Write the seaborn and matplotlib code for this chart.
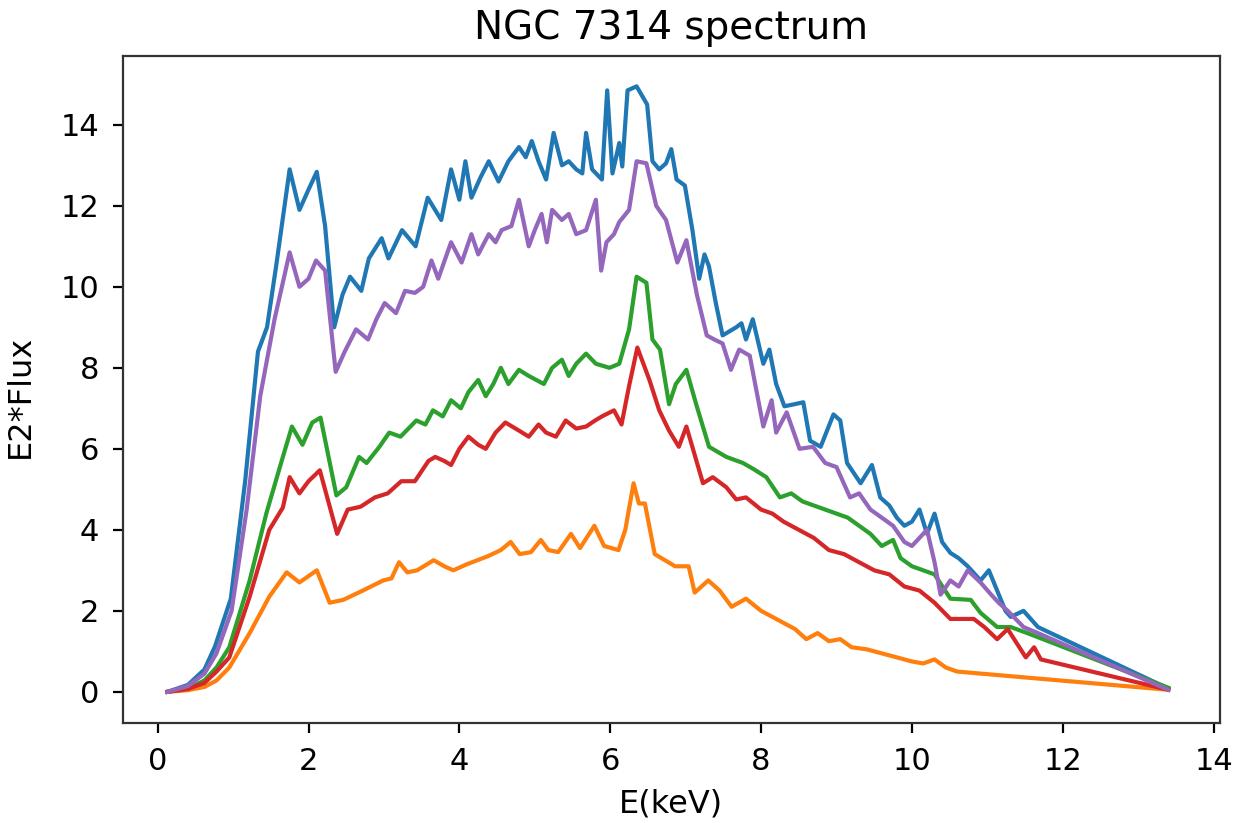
import pandas as pd
import seaborn as sns
import matplotlib.pyplot as plt

e_1 = [0.13, 0.40, 0.62, 0.76, 0.97, 1.16, 1.33, 1.45, 1.57, 1.75,
       1.88, 2.00, 2.11, 2.22, 2.34, 2.45, 2.55, 2.70, 2.80, 2.97,
       3.06, 3.24, 3.42, 3.58, 3.76, 3.89, 4.00, 4.08, 4.16, 4.28,
       4.39, 4.52, 4.65, 4.79, 4.88, 4.96, 5.05, 5.15, 5.25, 5.36,
       5.45, 5.55, 5.63, 5.68, 5.76, 5.89, 5.96, 6.03, 6.12, 6.16,
       6.23, 6.35, 6.49, 6.56, 6.65, 6.74, 6.81, 6.88, 6.99, 7.09,
       7.18, 7.25, 7.31, 7.40, 7.49, 7.58, 7.67, 7.74, 7.80, 7.89,
       8.03, 8.11, 8.20, 8.31, 8.44, 8.56, 8.65, 8.79, 8.96, 9.05,
       9.14, 9.23, 9.32, 9.47, 9.58, 9.70, 9.80, 9.90, 10.00, 10.10,
       10.20, 10.30, 10.40, 10.51, 10.62, 10.74, 10.91, 11.02, 11.13, 11.24,
       11.31, 11.48, 11.67, 13.40]
f_1 = [0.00, 0.17, 0.55, 1.12, 2.30, 5.20, 8.40, 9.00, 10.50, 12.90,
       11.90, 12.40, 12.84, 11.50, 9.00, 9.80, 10.25, 9.90, 10.70, 11.20,
       10.70, 11.40, 11.00, 12.20, 11.65, 12.90, 12.15, 13.10, 12.20, 12.70,
       13.10, 12.60, 13.10, 13.45, 13.20, 13.60, 13.10, 12.65, 13.80, 13.00,
       13.10, 12.90, 12.80, 13.80, 12.90, 12.65, 14.85, 12.80, 13.55, 12.97,
       14.85, 14.95, 14.50, 13.10, 12.90, 13.05, 13.40, 12.65, 12.50, 11.40,
       10.20, 10.80, 10.50, 9.60, 8.80, 8.90, 9.00, 9.10, 8.70, 9.20,
       8.10, 8.45, 7.60, 7.05, 7.10, 7.15, 6.20, 6.05, 6.85, 6.70,
       5.65, 5.40, 5.15, 5.60, 4.80, 4.60, 4.30, 4.10, 4.20, 4.50,
       3.90, 4.40, 3.70, 3.43, 3.30, 3.10, 2.75, 3.00, 2.50, 2.00,
       1.85, 2.00, 1.60, 0.08]

e_2 = [0.13, 0.40, 0.62, 0.78, 0.95, 1.22, 1.48, 1.71, 1.88, 2.11,
       2.28, 2.46, 2.72, 2.99, 3.10, 3.20, 3.31, 3.44, 3.66, 3.80,
       3.92, 4.10, 4.38, 4.55, 4.68, 4.80, 4.95, 5.08, 5.18, 5.31,
       5.48, 5.60, 5.79, 5.92, 6.11, 6.20, 6.31, 6.38, 6.46, 6.59,
       6.86, 7.04, 7.12, 7.30, 7.45, 7.61, 7.80, 8.00, 8.15, 8.30,
       8.45, 8.60, 8.75, 8.90, 9.05, 9.20, 9.40, 9.60, 9.80, 10.00,
       10.15, 10.30, 10.45, 10.60, 13.40]
f_2 = [0.00, 0.04, 0.12, 0.28, 0.60, 1.45, 2.35, 2.95, 2.70, 3.00,
       2.20, 2.27, 2.50, 2.75, 2.80, 3.20, 2.95, 3.00, 3.25, 3.10,
       3.00, 3.15, 3.35, 3.50, 3.70, 3.40, 3.45, 3.75, 3.50, 3.45,
       3.90, 3.55, 4.10, 3.60, 3.50, 4.00, 5.15, 4.65, 4.65, 3.40,
       3.10, 3.10, 2.45, 2.75, 2.50, 2.10, 2.30, 2.00, 1.85, 1.70,
       1.55, 1.30, 1.45, 1.25, 1.30, 1.10, 1.05, 0.95, 0.85, 0.75,
       0.70, 0.80, 0.60, 0.50, 0.05]

e_3 = [0.13, 0.40, 0.62, 0.78, 0.95, 1.22, 1.44, 1.66, 1.78, 1.92,
       2.05, 2.16, 2.37, 2.50, 2.67, 2.77, 2.94, 3.07, 3.22, 3.43,
       3.55, 3.65, 3.78, 3.89, 4.02, 4.12, 4.25, 4.35, 4.45, 4.55,
       4.65, 4.79, 4.92, 5.02, 5.12, 5.23, 5.36, 5.45, 5.55, 5.68,
       5.81, 5.99, 6.12, 6.25, 6.35, 6.48, 6.56, 6.66, 6.78, 6.87,
       7.01, 7.14, 7.31, 7.54, 7.76, 7.90, 8.07, 8.25, 8.40, 8.55,
       8.70, 8.85, 9.00, 9.15, 9.30, 9.45, 9.60, 9.75, 9.85, 10.00,
       10.15, 10.30, 10.51, 10.78, 10.91, 11.13, 11.31, 11.53, 13.40]
f_3 = [0.00, 0.08, 0.28, 0.60, 1.10, 2.75, 4.40, 5.80, 6.55, 6.10,
       6.65, 6.77, 4.85, 5.05, 5.80, 5.65, 6.05, 6.40, 6.30, 6.70,
       6.60, 6.95, 6.80, 7.20, 7.00, 7.40, 7.70, 7.30, 7.60, 8.00,
       7.60, 7.95, 7.80, 7.70, 7.60, 8.00, 8.20, 7.80, 8.10, 8.35,
       8.10, 8.00, 8.10, 8.95, 10.25, 10.10, 8.70, 8.45, 7.10, 7.60,
       7.95, 7.10, 6.05, 5.80, 5.65, 5.50, 5.30, 4.80, 4.90, 4.70,
       4.60, 4.50, 4.40, 4.30, 4.10, 3.90, 3.60, 3.75, 3.30, 3.10,
       3.00, 2.90, 2.30, 2.27, 1.95, 1.60, 1.60, 1.45, 0.10]

e_4 = [0.13, 0.40, 0.62, 0.78, 0.95, 1.22, 1.48, 1.66, 1.75, 1.88,
       2.00, 2.15, 2.38, 2.52, 2.69, 2.88, 3.05, 3.23, 3.41, 3.59,
       3.68, 3.80, 3.89, 4.00, 4.12, 4.25, 4.35, 4.48, 4.61, 4.79,
       4.92, 5.05, 5.15, 5.28, 5.41, 5.55, 5.68, 5.80, 5.89, 6.05,
       6.15, 6.25, 6.36, 6.52, 6.65, 6.78, 6.91, 7.01, 7.23, 7.36,
       7.54, 7.67, 7.80, 8.00, 8.15, 8.30, 8.50, 8.70, 8.90, 9.10,
       9.30, 9.50, 9.70, 9.90, 10.10, 10.30, 10.51, 10.82, 10.96, 11.13,
       11.27, 11.51, 11.62, 11.71, 13.40]
f_4 = [0.00, 0.07, 0.22, 0.50, 0.85, 2.35, 4.00, 4.55, 5.30, 4.90,
       5.20, 5.47, 3.90, 4.50, 4.57, 4.80, 4.90, 5.20, 5.20, 5.70,
       5.80, 5.70, 5.60, 6.00, 6.30, 6.10, 6.00, 6.40, 6.65, 6.45,
       6.30, 6.60, 6.40, 6.30, 6.70, 6.50, 6.55, 6.70, 6.80, 6.95,
       6.60, 7.55, 8.50, 7.70, 6.95, 6.45, 6.05, 6.55, 5.15, 5.30,
       5.05, 4.75, 4.80, 4.50, 4.40, 4.20, 4.00, 3.80, 3.50, 3.40,
       3.20, 3.00, 2.90, 2.60, 2.50, 2.20, 1.80, 1.80, 1.60, 1.30,
       1.55, 0.85, 1.10, 0.80, 0.05]

e_5 = [0.13, 0.40, 0.62, 0.78, 0.98, 1.18, 1.36, 1.55, 1.75, 1.88,
       2.00, 2.10, 2.22, 2.36, 2.48, 2.63, 2.79, 2.90, 3.01, 3.16,
       3.28, 3.41, 3.52, 3.63, 3.72, 3.89, 4.03, 4.16, 4.25, 4.39,
       4.48, 4.56, 4.69, 4.79, 4.92, 5.00, 5.09, 5.16, 5.23, 5.36,
       5.45, 5.55, 5.68, 5.81, 5.88, 5.95, 6.05, 6.12, 6.25, 6.35,
       6.48, 6.61, 6.74, 6.89, 7.01, 7.15, 7.28, 7.38, 7.49, 7.60,
       7.71, 7.85, 8.03, 8.14, 8.20, 8.34, 8.51, 8.69, 8.85, 9.00,
       9.18, 9.30, 9.45, 9.60, 9.75, 9.90, 10.00, 10.10, 10.20, 10.30,
       10.38, 10.51, 10.62, 10.74, 10.91, 11.05, 11.15, 11.27, 11.48, 11.67,
       13.40]
f_5 = [0.00, 0.14, 0.45, 0.95, 2.00, 4.50, 7.30, 9.20, 10.85, 10.00,
       10.20, 10.65, 10.40, 7.90, 8.40, 8.95, 8.70, 9.20, 9.60, 9.35,
       9.90, 9.85, 10.00, 10.65, 10.20, 11.10, 10.60, 11.30, 10.80, 11.30,
       11.10, 11.40, 11.50, 12.15, 11.00, 11.40, 11.80, 11.10, 11.90, 11.65,
       11.80, 11.30, 11.40, 12.15, 10.40, 11.10, 11.30, 11.60, 11.90, 13.10,
       13.05, 12.00, 11.65, 10.60, 11.15, 9.80, 8.80, 8.70, 8.60, 7.95,
       8.45, 8.30, 6.55, 7.20, 6.40, 6.90, 6.00, 6.05, 5.65, 5.55,
       4.80, 4.90, 4.50, 4.30, 4.10, 3.70, 3.60, 3.80, 4.00, 3.20,
       2.40, 2.75, 2.60, 3.00, 2.70, 2.40, 2.20, 2.00, 1.60, 1.45,
       0.05]

series = ["obs1", "obs2", "obs3", "obs4", "obs5"]
energies = [e_1, e_2, e_3, e_4, e_5]
fluxes = [f_1, f_2, f_3, f_4, f_5]
colors = ["#1f77b4", "#ff7f0e", "#2ca02c", "#d62728", "#9467bd"]

# long-format frame for seaborn
df = pd.concat([pd.DataFrame({"E": e, "flux": f, "obs": s})
                for s, e, f in zip(series, energies, fluxes)], ignore_index=True)

plt.rcParams["font.size"] = 11
fig = plt.figure(figsize=(6.21, 4.115), dpi=200)
ax = fig.add_axes([0.099, 0.1215, 0.883, 0.8105])
sns.lineplot(data=df, x="E", y="flux", hue="obs", palette=colors,
             estimator=None, sort=False, legend=False, linewidth=1.5, ax=ax)
ax.set_xlim(-0.46, 14.08)
ax.set_ylim(-0.77, 15.7)
ax.set_xticks(range(0, 15, 2))
ax.set_yticks(range(0, 15, 2))
ax.tick_params(labelsize=11, pad=5)
ax.spines[:].set_color("#333333")
ax.set_xlabel("E(keV)", fontsize=11.5)
ax.set_ylabel("E2*Flux", fontsize=11.5)
ax.xaxis.set_label_coords(0.5, -0.0975)
ax.yaxis.set_label_coords(-0.079, 0.489)
ax.set_title("NGC 7314 spectrum", fontsize=14)
fig.savefig("out.png", dpi=200)
